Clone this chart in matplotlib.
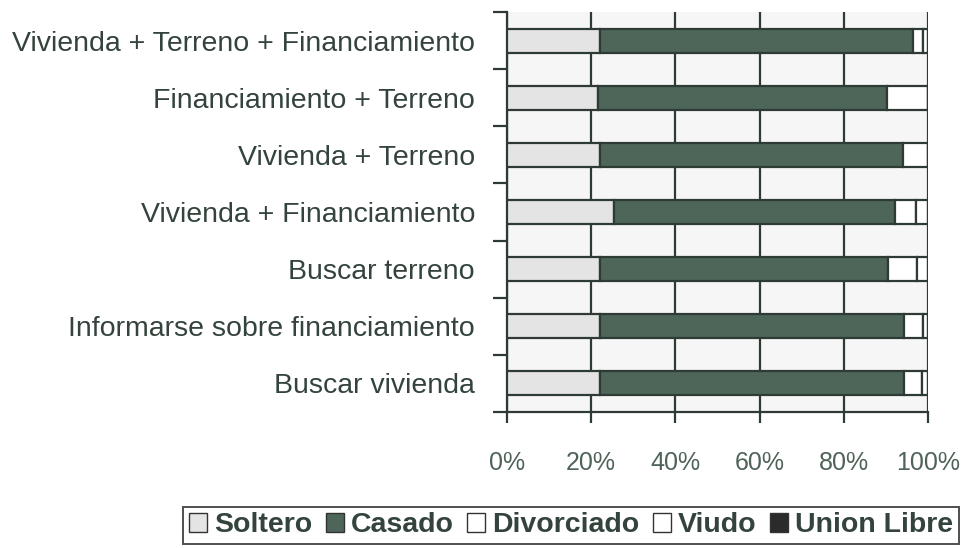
import matplotlib
matplotlib.use("Agg")
import matplotlib.pyplot as plt
import numpy as np
from matplotlib.patches import Patch

categories = [
    "Buscar vivienda",
    "Informarse sobre financiamiento",
    "Buscar terreno",
    "Vivienda + Financiamiento",
    "Vivienda + Terreno",
    "Financiamiento + Terreno",
    "Vivienda + Terreno + Financiamiento",
]
series_names = ["Soltero", "Casado", "Divorciado", "Viudo", "Union Libre"]
soltero     = [22.0, 22.0, 22.0, 25.5, 22.0, 21.6, 22.0]
casado      = [72.3, 72.3, 68.5, 66.7, 72.0, 68.7, 74.5]
divorciado  = [4.3, 4.5, 6.9, 4.9, 6.0, 9.7, 2.4]
viudo       = [1.4, 1.2, 2.6, 2.9, 0.0, 0.0, 1.1]
union_libre = [0.0, 0.0, 0.0, 0.0, 0.0, 0.0, 0.0]
xtick_labels = ["0%", "20%", "40%", "60%", "80%", "100%"]

series = [soltero, casado, divorciado, viudo, union_libre]
colors = ["#e4e4e4", "#4d6659", "#ffffff", "#ffffff", "#2b2b2b"]

plt.rcParams['font.family'] = ['Liberation Sans', 'DejaVu Sans']
fig = plt.figure(figsize=(9.66, 5.48), dpi=100)
ax = fig.add_axes([507/966, 1-412/548, (928-507)/966, 400/548])
ax.set_facecolor("#f6f6f6")

y = np.arange(len(categories))
left = np.zeros(len(categories))
edge = "#2e3a34"
for vals, c in zip(series, colors):
    vals = np.array(vals)
    ax.barh(y, vals, left=left, height=0.42, color=c, edgecolor=edge,
            linewidth=1.6, zorder=3)
    left += vals

ax.set_xlim(0, 100)
ax.set_ylim(-0.5, len(categories) - 0.5)
ax.set_xticks(np.arange(0, 101, 20))
ax.set_xticklabels(xtick_labels, fontsize=18, color="#4f6359")
ax.set_yticks(y)
ax.set_yticklabels(categories, fontsize=20.5, color="#34443c")
ax.tick_params(axis='y', which='major', length=0, pad=23)
ax.set_yticks(np.arange(-0.5, len(categories), 1.0), minor=True)
ax.tick_params(axis='y', which='minor', length=10, width=1.6, color=edge, direction='out')
ax.tick_params(axis='x', which='major', length=8, width=1.6, color=edge, direction='out', pad=20)

ax.grid(axis='x', color="#2e3a34", linewidth=1.6, zorder=1)
for s in ["top", "right"]:
    ax.spines[s].set_visible(False)
for s in ["left", "bottom"]:
    ax.spines[s].set_color(edge)
    ax.spines[s].set_linewidth(1.6)

handles = [Patch(facecolor=c, edgecolor="#333333", linewidth=1.0) for c in colors]
leg = fig.legend(handles, series_names, loc="lower right",
                 bbox_to_anchor=(962/966, 1/548), ncol=5, frameon=True,
                 prop={'weight': 'bold', 'size': 20.5}, handlelength=0.65,
                 handleheight=0.65, handletextpad=0.25, columnspacing=0.45,
                 borderpad=0.2, borderaxespad=0.1, fancybox=False,
                 edgecolor="#222222")
leg.get_frame().set_linewidth(1.4)
for t in leg.get_texts():
    t.set_color("#34443c")

fig.savefig("out.png", dpi=100)
